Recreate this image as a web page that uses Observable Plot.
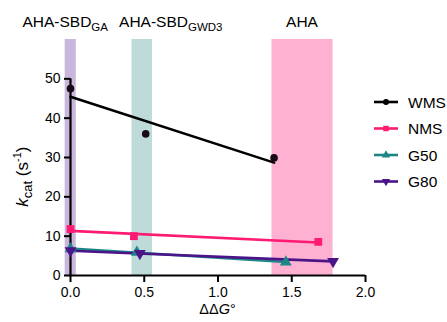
<!DOCTYPE html>
<html>
<head>
<meta charset="utf-8">
<script src="https://cdn.jsdelivr.net/npm/d3@7"></script>
<script src="https://cdn.jsdelivr.net/npm/@observablehq/plot@0.6"></script>
<style>
  body { margin: 0; background: #fff; }
  #chart { width: 447px; height: 322px; }
</style>
</head>
<body>
<div id="chart"></div>
<script>
// ---- data ----
const seriesNames = ["WMS", "NMS", "G50", "G80"];
const seriesColors = ["#000000", "#ff1a72", "#1c8787", "#4b1488"];
const seriesSymbols = ["circle", "square", "triangle", "triangle-down"];
const wmsX = [0, 0.51, 1.38];
const wmsY = [47.5, 36.0, 29.9];
const nmsX = [0, 0.43, 1.68];
const nmsY = [11.8, 10.0, 8.55];
const g50X = [0, 0.45, 1.46];
const g50Y = [6.8, 5.9, 3.4];
const g80X = [0, 0.47, 1.78];
const g80Y = [6.3, 5.6, 3.6];

const bandLabels = ["AHA-SBD", "AHA-SBD", "AHA"];
const bandSubs = ["GA", "GWD3", ""];
const bandX1 = [-0.036, 0.417, 1.366];
const bandX2 = [0.039, 0.556, 1.780];
const bandColors = ["#c9b6dc", "#bedbda", "#ffb1d1"];
const bandLabelShift = [-5, 29, 0];

const xTicks = [0, 0.5, 1.0, 1.5, 2.0];
const yTicks = [0, 10, 20, 30, 40, 50];

// ---- symbols ----
const symbolTriangleDown = {
  draw(context, size) {
    const y = -Math.sqrt(size / (Math.sqrt(3) * 3));
    context.moveTo(0, -y * 2);
    context.lineTo(-Math.sqrt(3) * y, y);
    context.lineTo(Math.sqrt(3) * y, y);
    context.closePath();
  }
};
const symTypes = {circle: d3.symbolCircle, square: d3.symbolSquare, triangle: d3.symbolTriangle, "triangle-down": symbolTriangleDown};

// ---- build tables ----
const seriesX = [wmsX, nmsX, g50X, g80X];
const seriesY = [wmsY, nmsY, g50Y, g80Y];
const points = [];
seriesNames.forEach((s, i) => seriesX[i].forEach((x, j) => points.push({series: s, x, y: seriesY[i][j]})));
const bands = bandLabels.map((l, i) => ({label: l, sub: bandSubs[i], x1: bandX1[i], x2: bandX2[i], color: bandColors[i], shift: bandLabelShift[i]}));
const colorOf = Object.fromEntries(seriesNames.map((s, i) => [s, seriesColors[i]]));
const symOf = Object.fromEntries(seriesNames.map((s, i) => [s, symTypes[seriesSymbols[i]]]));

const chart = Plot.plot({
  width: 447,
  height: 322,
  marginLeft: 70,
  marginRight: 82,
  marginTop: 39,
  marginBottom: 47,
  style: {fontFamily: "'Liberation Sans', Arial, sans-serif", fontSize: "14px", color: "#000", background: "#fff"},
  x: {domain: [0, 2], axis: null, label: null},
  y: {domain: [0, 60], axis: null, label: null},
  marks: [
    Plot.rectX(bands, {x1: "x1", x2: "x2", y1: 0, y2: 60, fill: "color"}),
    Plot.axisX({ticks: xTicks, tickFormat: d3.format(".1f"), tickSize: 7, tickPadding: 5, fontSize: 14, strokeWidth: 2, label: null}),
    Plot.axisY({ticks: yTicks, tickSize: 6, tickPadding: 4, fontSize: 14, strokeWidth: 2, label: null}),
    Plot.ruleX([0], {y1: 0, y2: 50, stroke: "#000", strokeWidth: 2.2}),
    Plot.ruleY([0], {x1: 0, x2: 2, stroke: "#000", strokeWidth: 2.2}),
    ...seriesNames.map(s => Plot.linearRegressionY(points.filter(d => d.series === s), {x: "x", y: "y", stroke: colorOf[s], strokeWidth: 2.6, ci: 0})),
    ...seriesNames.map(s => Plot.dot(points.filter(d => d.series === s), {x: "x", y: "y", symbol: symOf[s], fill: s === "WMS" ? "#1a0a18" : colorOf[s], r: s === "WMS" ? 3.8 : 4.4, stroke: "none"}))
  ]
});
document.getElementById("chart").appendChild(chart);

const xs = chart.scale("x"), ys = chart.scale("y");
const svg = d3.select(chart);
const ff = "'Liberation Sans', Arial, sans-serif";

// band headers
bands.forEach(b => {
  const cx = (xs.apply(b.x1) + xs.apply(b.x2)) / 2 + b.shift;
  const t = svg.append("text").attr("x", cx).attr("y", ys.apply(60) - 12)
    .attr("text-anchor", "middle").attr("font-family", ff).attr("font-size", 15.5).attr("fill", "#000");
  t.append("tspan").text(b.label);
  if (b.sub) t.append("tspan").attr("font-size", 11.5).attr("dy", 4).text(b.sub);
});

// y label
{
  const cy = (ys.apply(0) + ys.apply(50)) / 2;
  const t = svg.append("text").attr("transform", `translate(28,${cy}) rotate(-90)`)
    .attr("text-anchor", "middle").attr("font-family", ff).attr("font-size", 17).attr("fill", "#000");
  t.append("tspan").attr("font-style", "italic").text("k");
  t.append("tspan").attr("font-size", 13).attr("dy", 4).text("cat");
  t.append("tspan").attr("dy", -4).text(" (s");
  t.append("tspan").attr("font-size", 11).attr("dy", -7).text("-1");
  t.append("tspan").attr("dy", 7).text(")");
}

// x label
{
  const t = svg.append("text").attr("x", xs.apply(1)).attr("y", 314)
    .attr("text-anchor", "middle").attr("font-family", ff).attr("font-size", 14.5).attr("fill", "#000");
  t.append("tspan").text("ΔΔ");
  t.append("tspan").attr("font-style", "italic").text("G");
  t.append("tspan").text("°");
}

// legend
seriesNames.forEach((s, i) => {
  const y = 102 + i * 26.5;
  const g = svg.append("g").attr("transform", `translate(374,${y})`);
  g.append("line").attr("x1", 0).attr("x2", 24).attr("y1", 0).attr("y2", 0).attr("stroke", seriesColors[i]).attr("stroke-width", 2.6);
  const st = seriesSymbols[i];
  g.append("path").attr("d", d3.symbol(symTypes[st], st === "circle" ? 28 : 30)())
    .attr("transform", `translate(12,0)`)
    .attr("fill", seriesColors[i]);
  g.append("text").attr("x", 34).attr("y", 5.5).attr("text-anchor", "start").attr("font-family", ff).attr("font-size", 15.5).attr("fill", "#000").text(s);
});
</script>
</body>
</html>
